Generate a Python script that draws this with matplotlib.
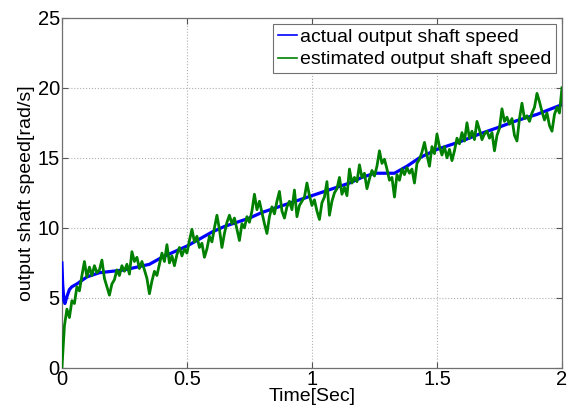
import numpy as np
import matplotlib
matplotlib.use("Agg")
import matplotlib.pyplot as plt

plt.rcParams['font.family'] = ['Liberation Sans', 'DejaVu Sans']

t_actual = [0.0, 0.003, 0.008, 0.012, 0.02, 0.03, 0.04, 0.06, 0.10, 0.15, 0.20, 0.25,
            0.30, 0.35, 0.40, 0.45, 0.50, 0.55, 0.60, 0.65, 0.70, 0.75, 0.80, 0.85,
            0.90, 0.95, 1.00, 1.05, 1.10, 1.15, 1.20, 1.25, 1.30, 1.33, 1.38, 1.43,
            1.50, 1.60, 1.67, 1.75, 1.81, 1.90, 2.00]
v_actual = [7.5, 6.0, 4.8, 4.6, 5.1, 5.6, 5.8, 6.0, 6.5, 6.8, 6.9, 7.0,
            7.2, 7.4, 7.9, 8.3, 8.7, 9.2, 9.7, 10.1, 10.4, 10.7, 11.1, 11.4,
            11.7, 12.0, 12.3, 12.6, 12.9, 13.2, 13.6, 13.9, 13.9, 13.9, 14.4, 15.0,
            15.6, 16.2, 16.7, 17.2, 17.6, 18.1, 18.8]

# estimated output shaft speed, every 0.01 s from 0 to 2 s
v_est = [
    0.0, 3.0, 4.2, 3.6, 4.8, 4.6, 5.8, 5.5, 6.6, 7.6,
    6.5, 7.2, 6.6, 7.3, 6.8, 7.0, 7.7, 6.4, 5.8, 5.2,
    6.0, 6.3, 7.0, 6.6, 7.3, 6.9, 7.4, 6.7, 8.3, 7.6,
    7.9, 7.1, 7.6, 7.0, 6.4, 5.3, 6.2, 6.9, 6.6, 7.4,
    8.2, 7.6, 8.8, 7.5, 8.0, 7.3, 8.1, 8.6, 8.0, 8.5,
    8.2, 9.1, 9.9, 9.0, 9.4, 8.6, 8.9, 7.9, 8.5, 9.4,
    9.0, 10.0, 10.9, 9.9, 8.6, 9.6, 10.4, 10.9, 10.3, 10.7,
    9.9, 9.1, 10.3, 10.0, 10.8, 10.4, 11.2, 12.4, 11.3, 11.9,
    11.1, 10.3, 9.6, 10.8, 11.5, 11.0, 11.9, 12.6, 11.2, 10.7,
    11.5, 11.9, 11.3, 12.7, 10.8, 11.6, 11.9, 12.2, 13.2, 12.3,
    11.6, 12.0, 11.2, 10.6, 11.8, 12.2, 13.3, 10.9, 11.9, 12.5,
    12.8, 13.6, 12.4, 12.9, 12.3, 14.2, 13.2, 13.6, 13.3, 14.5,
    13.6, 13.9, 12.8, 13.5, 14.1, 13.7, 14.4, 15.5, 14.6, 14.9,
    14.2, 13.4, 13.6, 12.2, 13.8, 13.4, 14.2, 13.8, 14.3, 13.9,
    14.2, 13.2, 14.6, 14.9, 15.4, 16.1, 15.2, 14.4, 15.8, 15.3,
    16.7, 15.8, 15.2, 15.8, 15.0, 15.6, 14.8, 15.5, 16.4, 16.0,
    16.8, 16.2, 17.5, 16.4, 16.9, 16.3, 17.6, 17.0, 16.3, 16.7,
    16.9, 16.4, 16.8, 15.5, 16.6, 17.1, 18.5, 17.6, 17.9, 17.4,
    17.8, 16.6, 16.2, 17.8, 18.9, 17.8, 18.0, 17.6, 18.2, 18.6,
    19.6, 19.0, 18.3, 17.7, 18.2, 17.3, 16.9, 18.1, 18.6, 18.2,
    20.0,
]
t_est = np.linspace(0, 2, len(v_est))

x_ticks = [0, 0.5, 1, 1.5, 2]
x_tick_labels = ['0', '0.5', '1', '1.5', '2']
y_ticks = [0, 5, 10, 15, 20, 25]
y_tick_labels = ['0', '5', '10', '15', '20', '25']

fig = plt.figure(figsize=(5.68, 4.15), dpi=100)
ax = fig.add_axes([0.109, 0.1133, 0.8804, 0.8440])

ax.plot(t_actual, v_actual, color='#0000ff', lw=2.3, label='actual output shaft speed', zorder=3)
ax.plot(t_est, v_est, color='#008000', lw=2.0, label='estimated output shaft speed', zorder=4)

ax.set_xlim(0, 2)
ax.set_ylim(0, 25)
ax.set_xticks(x_ticks)
ax.set_xticklabels(x_tick_labels)
ax.set_yticks(y_ticks)
ax.set_yticklabels(y_tick_labels)
ax.tick_params(direction='in', length=4, width=0.8, color='#555555',
               top=True, right=True, labelsize=14.5, pad=1.5)
for s in ax.spines.values():
    s.set_color('#707070')
    s.set_linewidth(0.9)
ax.grid(True, linestyle=':', color='#b0b0b0', linewidth=0.8)
ax.set_axisbelow(True)

ax.set_xlabel('Time[Sec]', fontsize=14, labelpad=-1)
ax.set_ylabel('output shaft speed[rad/s]', fontsize=14, labelpad=2)

leg = ax.legend(loc='upper right', fontsize=14, fancybox=False, framealpha=1,
                edgecolor='#707070', handlelength=1.0, handletextpad=0.15,
                borderpad=0.25, labelspacing=0.25, borderaxespad=0.3)
leg.get_frame().set_linewidth(0.8)
for h in leg.get_lines():
    h.set_linewidth(1.2)

fig.savefig('out.png', dpi=100)
